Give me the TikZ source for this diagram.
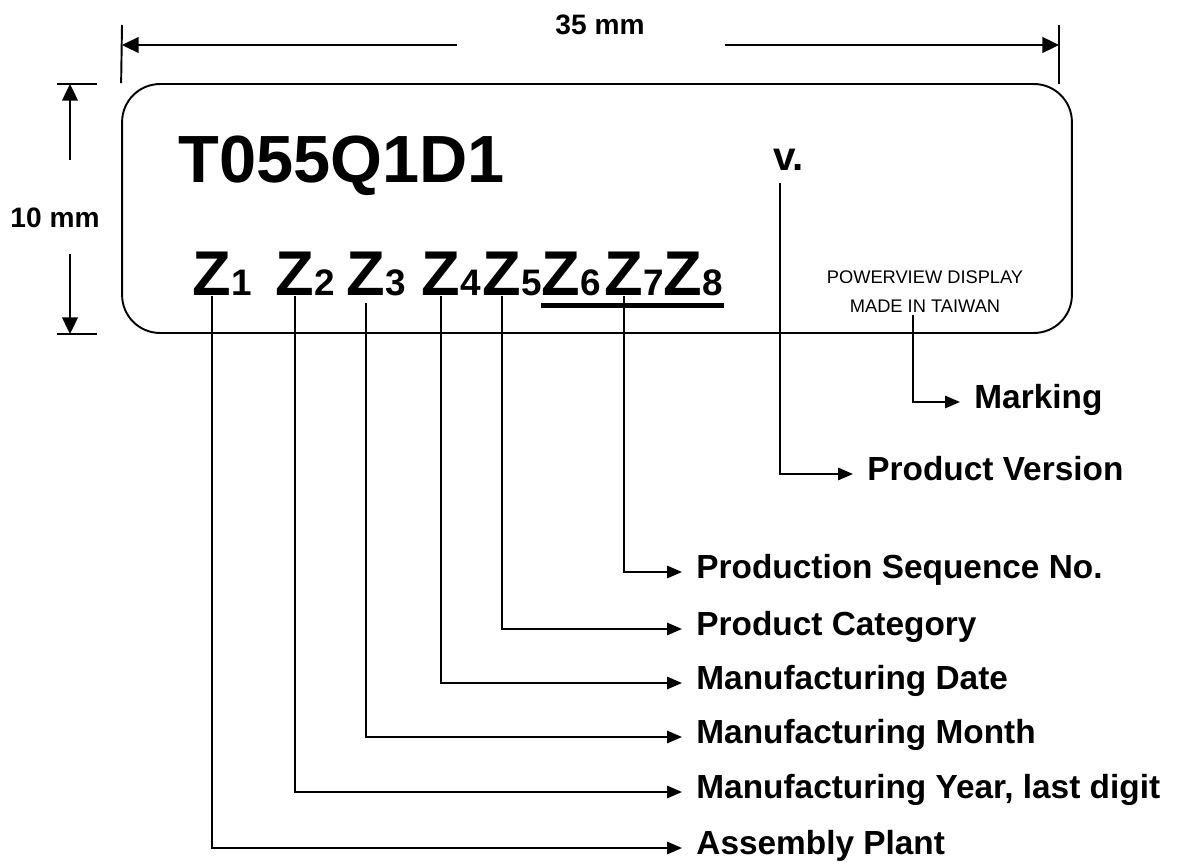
\documentclass[tikz,border=0pt]{standalone}
\usepackage{fontspec}
\setmainfont{Liberation Sans}
\usetikzlibrary{arrows.meta, positioning, calc}

\begin{document}
\begin{tikzpicture}[
    x=0.02cm, y=-0.02cm,
    tagbox/.style={
        rectangle,
        rounded corners=0.76cm,
        minimum width=19cm,
        minimum height=4.98cm,
        draw,
        line width=1.1pt,
        inner sep=0pt
    },
    zchar/.style={
        inner sep=0pt,
        anchor=base west,
        font=\fontsize{36}{36}\selectfont\bfseries
    },
    zsub/.style={
        inner sep=0pt,
        anchor=base west,
        font=\fontsize{21}{21}\selectfont\bfseries
    },
    field/.style={
        anchor=west,
        inner xsep=8pt,
        inner ysep=0pt,
        text height=0.72em,
        text depth=0pt,
        font=\fontsize{19}{19}\selectfont\bfseries
    },
    dimtext/.style={
        inner sep=0pt,
        font=\fontsize{16}{16}\selectfont\bfseries
    },
    dimline/.style={line width=1.1pt},
    dimarrow/.style={
        line width=1.1pt,
        -{Triangle[length=9.5pt, width=9pt]}
    },
    callout/.style={
        line width=1.1pt,
        -{Triangle[length=8.5pt, width=7pt]}
    }
]
\useasboundingbox (0,0) rectangle (1184,868);

% Label outline
\node[tagbox] (tag) at (597,208.5) {};

% Printed text
\node[inner sep=0pt, anchor=base west, font=\fontsize{38}{38}\selectfont\bfseries] (model) at (178,183) {T055Q1D1};
\node[inner sep=0pt, anchor=base west, font=\fontsize{23}{23}\selectfont\bfseries] (ver) at (773,171) {v.};
\node[inner sep=0pt, align=center, font=\fontsize{10.4}{16.4}\selectfont] (maker) at (925,292) {POWERVIEW DISPLAY\\MADE IN TAIWAN};

% Code characters
\foreach \i/\x in {1/192,2/275,3/346,4/421,5/482,6/541,7/604,8/663} {
    \node[zchar] (z\i) at (\x,296) {Z};
    \node[zsub] (d\i) at (z\i.base east) {\i};
}
\draw[line width=2.8pt] ([yshift=-5.4pt]z6.base west) -- ([yshift=-5.4pt]d8.base east);

% Field names
\node[field] (marking) at (960,402) {Marking};
\node[field] (version) at (853,474) {Product Version};
\node[field] (seqno) at (682,572) {Production Sequence No.};
\node[field] (category) at (682,629) {Product Category};
\node[field] (mdate) at (682,683) {Manufacturing Date};
\node[field] (mmonth) at (682,737) {Manufacturing Month};
\node[field] (myear) at (682,792) {Manufacturing Year, last digit};
\node[field] (plant) at (682,848) {Assembly Plant};

% Callouts
\draw[callout] ([shift={(-12,2)}]maker.south) |- (marking.west);
\draw[callout] ([shift={(7,12)}]ver.south west) |- (version.west);
\draw[callout] (z7.south) |- (seqno.west);
\draw[callout] (z5.south) |- (category.west);
\draw[callout] (z4.south) |- (mdate.west);
\draw[callout] ([yshift=-4]z3.south) |- (mmonth.west);
\draw[callout] (z2.south) |- (myear.west);
\draw[callout] (z1.south) |- (plant.west);

% Width dimension
\coordinate (wl) at (122,45);
\coordinate (wr) at (1059,45);
\draw[dimline] (tag.north west) -- (122,25);
\draw[dimline] (1059,84) -- (1059,25);
\node[dimtext] (width) at (600,25) {35 mm};
\draw[dimarrow] (457,45) -- (wl);
\draw[dimarrow] (725,45) -- (wr);

% Height dimension
\coordinate (ht) at (70,84);
\coordinate (hb) at (70,334);
\draw[dimline] (57,84) -- (97,84);
\draw[dimline] (57,334) -- (97,334);
\node[dimtext] (height) at (55,218) {10 mm};
\draw[dimarrow] (70,160) -- (ht);
\draw[dimarrow] (70,254) -- (hb);

\end{tikzpicture}
\end{document}
